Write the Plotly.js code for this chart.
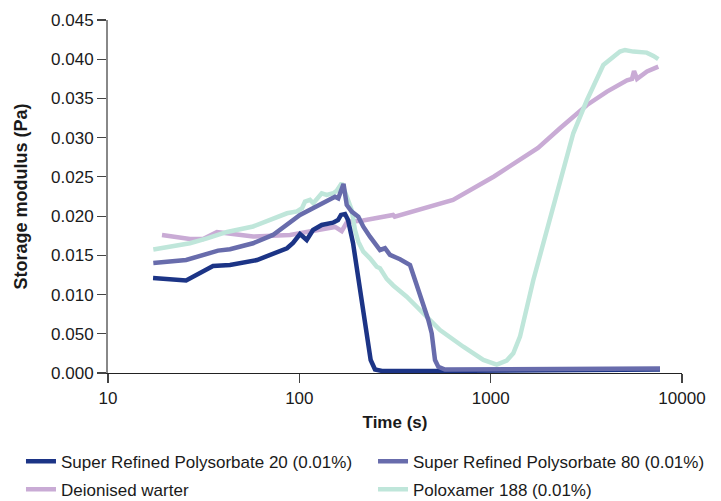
<!DOCTYPE html>
<html>
<head>
<meta charset="utf-8">
<script src="https://cdn.plot.ly/plotly-3.0.1.min.js"></script>
<style>html,body{margin:0;padding:0;background:#fff;}#chart{width:721px;height:501px;}</style>
</head>
<body>
<div id="chart"></div>
<script>
// Series names (legend labels)
const seriesNames = [
  "Super Refined Polysorbate 20 (0.01%)",
  "Super Refined Polysorbate 80 (0.01%)",
  "Deionised warter",
  "Poloxamer 188 (0.01%)"
];

// Super Refined Polysorbate 20 (0.01%)
const ps20Time = [17.2, 25.6, 35.4, 43.4, 60.1, 86.2, 92.7, 100.8, 109.3, 117.9, 130.9, 150, 159.3, 165.1, 173.3, 179.7, 190.8, 207.6, 225, 236, 248.6, 270.4, 543.6, 7674];
const ps20G = [0.0121, 0.0118, 0.01364, 0.01377, 0.0144, 0.0159, 0.01658, 0.01772, 0.01696, 0.01823, 0.01887, 0.01916, 0.0195, 0.02015, 0.02027, 0.0195, 0.01658, 0.01097, 0.00548, 0.00166, 0.00045, 0.00026, 0.00026, 0.00045];

// Super Refined Polysorbate 80 (0.01%)
const ps80Time = [17.25, 25.6, 37.6, 43.4, 57.3, 72.8, 100.8, 144.7, 153.6, 159.8, 170.2, 176.9, 187.8, 203.4, 216, 234, 253.8, 264, 280.4, 297.8, 335.9, 378.9, 410.6, 444.6, 472.2, 491.9, 501.5, 511.8, 532.5, 577, 7674];
const ps80G = [0.01403, 0.01441, 0.0156, 0.01577, 0.01654, 0.0176, 0.02015, 0.02227, 0.02248, 0.02227, 0.0241, 0.02142, 0.02057, 0.01993, 0.01865, 0.01738, 0.01632, 0.01568, 0.0159, 0.01505, 0.0145, 0.01377, 0.01122, 0.00889, 0.00676, 0.00506, 0.00335, 0.00166, 0.0008, 0.00045, 0.00057];

// Deionised warter
const waterTime = [19.15, 26.8, 31.4, 37.1, 45.0, 57.3, 89.4, 128.2, 153.6, 166.5, 177.5, 215.2, 264, 308.8, 315, 365.3, 464.8, 635.6, 1041, 1768, 2304, 3188, 4055, 5160, 5480, 5614, 5820, 6565, 7519];
const waterG = [0.0176, 0.01709, 0.01709, 0.01798, 0.01772, 0.0174, 0.0176, 0.01823, 0.01862, 0.0181, 0.01925, 0.01944, 0.01976, 0.02015, 0.01993, 0.0204, 0.02104, 0.02206, 0.02505, 0.02869, 0.0312, 0.03417, 0.03587, 0.0373, 0.03749, 0.0385, 0.03749, 0.03844, 0.03905];

// Poloxamer 188 (0.01%)
const poloxTime = [17.25, 26.8, 32.9, 41.9, 57.3, 67.8, 86.2, 97.2, 103.3, 107.1, 113.7, 118.3, 130.9, 139, 150.5, 156.8, 166.5, 176.9, 187.8, 195.4, 203.4, 216, 234, 253.8, 264, 286.2, 309.8, 364.1, 444.6, 543.6, 719.5, 915.5, 1075.6, 1213, 1313, 1423, 1671, 1963, 2304, 2703, 3188, 3879, 4742, 5037, 5566, 6541, 7088, 7519];
const poloxG = [0.01575, 0.01654, 0.01715, 0.01798, 0.01868, 0.01932, 0.02036, 0.02059, 0.021, 0.02184, 0.02206, 0.02164, 0.02291, 0.0227, 0.02291, 0.02324, 0.02419, 0.02248, 0.02078, 0.01823, 0.01674, 0.01547, 0.01462, 0.01355, 0.01335, 0.01199, 0.01116, 0.00973, 0.00761, 0.00548, 0.00335, 0.00166, 0.00106, 0.00159, 0.00251, 0.00463, 0.01186, 0.01823, 0.02439, 0.03056, 0.03481, 0.03927, 0.04097, 0.04118, 0.04097, 0.04084, 0.04042, 0.04];

// Axis ticks (labels as printed on the original chart)
const xTickVals = [10, 100, 1000, 10000];
const xTickText = ["10", "100", "1000", "10000"];
const yTickVals = [0, 0.005, 0.01, 0.015, 0.02, 0.025, 0.03, 0.035, 0.04, 0.045];
const yTickText = ["0.000", "0.050", "0.010", "0.015", "0.020", "0.025", "0.030", "0.035", "0.040", "0.045"];

const colors = ["#1c3486", "#686cac", "#c9abd5", "#bfe6da"];
const lw = 4.5;

const traces = [
  {x: waterTime, y: waterG, name: seriesNames[2], legend: "legend", legendgroup: "g3", legendrank: 2, line: {color: colors[2]}},
  {x: poloxTime, y: poloxG, name: seriesNames[3], legend: "legend2", legendgroup: "g4", legendrank: 2, line: {color: colors[3]}},
  {x: ps20Time, y: ps20G, name: seriesNames[0], legend: "legend", legendgroup: "g1", legendrank: 1, line: {color: colors[0]}},
  {x: ps80Time, y: ps80G, name: seriesNames[1], legend: "legend2", legendgroup: "g2", legendrank: 1, line: {color: colors[1]}}
].map(t => Object.assign({type: "scatter", mode: "lines"}, t, {line: Object.assign({width: lw, shape: "linear"}, t.line)}));

const font = {family: "Liberation Sans, Arial, sans-serif", color: "#1a1a1a"};

const legendBase = {
  orientation: "v",
  y: -0.2, yanchor: "top",
  xanchor: "left",
  font: {size: 17},
  traceorder: "grouped",
  tracegroupgap: 3,
  bgcolor: "rgba(0,0,0,0)"
};

const layout = {
  width: 721, height: 501,
  margin: {l: 108, r: 39, t: 20, b: 128, autoexpand: false},
  paper_bgcolor: "#fff", plot_bgcolor: "#fff",
  font: Object.assign({size: 17}, font),
  showlegend: true,
  xaxis: {
    type: "log", range: [1, 4],
    tickvals: xTickVals, ticktext: xTickText,
    showgrid: false, zeroline: false,
    showline: true, linecolor: "#222", linewidth: 1.2,
    ticks: "outside", ticklen: 9, tickwidth: 1.2, tickcolor: "#444",
    tickfont: {size: 17},
    title: {text: "<b>Time (s)</b>", font: {size: 17}, standoff: 9}
  },
  yaxis: {
    range: [0, 0.045],
    tickvals: yTickVals, ticktext: yTickText,
    showgrid: false, zeroline: false,
    showline: true, linecolor: "#888", linewidth: 2,
    ticks: "outside", ticklen: 9, tickwidth: 1.2, tickcolor: "#444",
    tickfont: {size: 17},
    title: {text: "<b>Storage modulus (Pa)</b>", font: {size: 18}, standoff: 19}
  },
  legend: Object.assign({}, legendBase, {x: -0.1516}),
  legend2: Object.assign({}, legendBase, {x: 0.4617})
};

Plotly.newPlot("chart", traces, layout, {displayModeBar: false, staticPlot: true});
</script>
</body>
</html>
